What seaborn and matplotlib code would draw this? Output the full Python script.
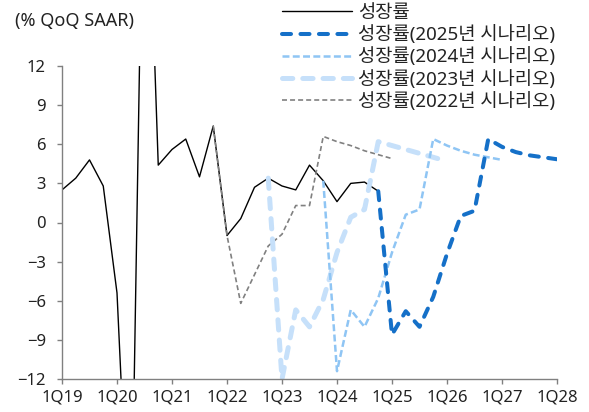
import numpy as np
import pandas as pd
import matplotlib
matplotlib.use("Agg")
import matplotlib.pyplot as plt
import seaborn as sns

# Quarter labels (1Q19 .. 1Q28) and the tick labels shown on the x axis
quarters = [f"{q}Q{y:02d}" for y in range(19, 29) for q in range(1, 5)][:37]
tick_labels = ["1Q19", "1Q20", "1Q21", "1Q22", "1Q23", "1Q24", "1Q25", "1Q26", "1Q27", "1Q28"]

# Actual growth, 1Q19 - 4Q24
actual = [2.5, 3.4, 4.8, 2.8, -5.4, -28.0, 35.0, 4.4, 5.6, 6.4, 3.5, 7.4,
          -1.0, 0.3, 2.7, 3.4, 2.8, 2.5, 4.4, 3.2, 1.6, 3.0, 3.1, 2.4]
actual_start = "1Q19"

# Scenario paths (each starts at the last actual quarter before the shock)
scen_2022 = [7.4, -1.0, -6.2, -4.0, -1.8, -0.9, 1.3, 1.3, 6.6, 6.2, 5.9, 5.5, 5.2, 4.9]
scen_2022_start = "4Q21"
scen_2023 = [3.4, -12.0, -6.7, -8.0, -5.9, -2.3, 0.4, 1.0, 6.2, 5.9, 5.6, 5.3, 5.0, 4.7]
scen_2023_start = "4Q22"
scen_2024 = [3.2, -11.4, -6.7, -8.0, -5.8, -2.3, 0.6, 1.0, 6.4, 5.9, 5.5, 5.2, 5.0, 4.8]
scen_2024_start = "4Q23"
scen_2025 = [2.4, -8.6, -6.8, -8.0, -5.7, -2.4, 0.5, 0.9, 6.4, 5.8, 5.4, 5.15, 5.0, 4.85]
scen_2025_start = "4Q24"

labels = ["성장률", "성장률(2025년 시나리오)", "성장률(2024년 시나리오)",
          "성장률(2023년 시나리오)", "성장률(2022년 시나리오)"]

sns.set_theme(style="white")
plt.rcParams["font.family"] = ["Noto Sans", "Noto Sans CJK KR", "DejaVu Sans"]
plt.rcParams["lines.scale_dashes"] = False
text_color = "#222222"


def frame(values, start):
    i0 = quarters.index(start)
    return pd.DataFrame({"q": np.arange(i0, i0 + len(values)), "v": values})


fig = plt.figure(figsize=(5.89, 4.12), dpi=100)
ax = fig.add_axes([62 / 589, 1 - 379 / 412, (557 - 62) / 589, (379 - 66) / 412])

series = [
    # (values, start, label, color, width, dashes, capstyle)
    (actual, actual_start, labels[0], "#000000", 1.0, None, "butt"),
    (scen_2022, scen_2022_start, labels[4], "#808080", 1.2, (3.6, 2.2), "butt"),
    (scen_2023, scen_2023_start, labels[3], "#c6e0fa", 3.6, (7.4, 7.2), "round"),
    (scen_2024, scen_2024_start, labels[2], "#8fc5f4", 1.8, (5.0, 2.4), "butt"),
    (scen_2025, scen_2025_start, labels[1], "#1570c8", 2.9, (6.5, 6.8), "round"),
]

handles = {}
for values, start, label, color, lw, dashes, cap in series:
    df = frame(values, start)
    sns.lineplot(data=df, x="q", y="v", ax=ax, color=color, linewidth=lw,
                 label=label, legend=False)
    line = ax.lines[-1]
    if dashes is not None:
        line.set_dashes(dashes)
        line.set_dash_capstyle(cap)
    handles[label] = line

ax.set_xlim(0, 36)
ax.set_ylim(-12, 12)
ax.set_yticks(np.arange(-12, 13, 3))
ax.set_xticks([quarters.index(t) for t in tick_labels])
ax.set_xticklabels(tick_labels)
ax.set_xlabel("")
ax.set_ylabel("")

for side in ["top", "right"]:
    ax.spines[side].set_visible(False)
for side in ["left", "bottom"]:
    ax.spines[side].set_color("#808080")
    ax.spines[side].set_linewidth(1.0)

ax.tick_params(axis="both", which="major", direction="out", length=3.5, width=1.0,
               color="#808080", labelsize=12, labelcolor=text_color,
               left=True, bottom=True)
ax.tick_params(axis="y", pad=8)
ax.tick_params(axis="x", pad=4)

fig.text(15 / 589, 1 - 21 / 412, "(% QoQ SAAR)", fontsize=13, color=text_color,
         ha="left", va="center")

fig.legend([handles[l] for l in labels], labels, loc="upper left",
           bbox_to_anchor=(282 / 589, 1 - 4 / 412), frameon=False,
           fontsize=13.5, handlelength=3.73, handletextpad=0.32,
           labelspacing=0.17, borderpad=0.0, borderaxespad=0.0,
           labelcolor=text_color)

fig.savefig("out.png", dpi=100)
